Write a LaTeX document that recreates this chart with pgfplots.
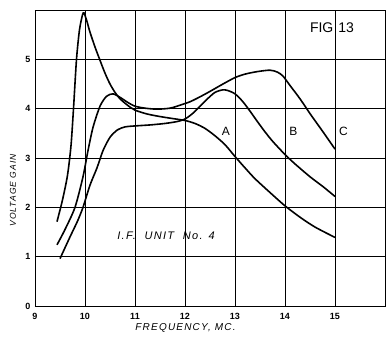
\documentclass[border=0pt]{standalone}
\usepackage{fontspec}
\setmainfont{Liberation Sans}
\newfontfamily\spaced[LetterSpace=12]{Liberation Sans}
\usepackage{pgfplots}
\pgfplotsset{compat=1.18}
\pgfplotsset{curve/.style={black, line width=1.6pt, smooth, tension=0.45, mark=none}}
\begin{document}
\begin{tikzpicture}
\useasboundingbox (0,0) rectangle (389pt,344pt);
\begin{axis}[
  at={(35pt,38pt)}, anchor=south west,
  scale only axis, width=350pt, height=296pt,
  xmin=9, xmax=16, ymin=0, ymax=6,
  xtick={9,10,...,16}, ytick={0,1,...,6},
  xticklabels={9,10,11,12,13,14,15,},
  yticklabels={0,1,2,3,4,5,},
  grid=major,
  major grid style={draw=black, line width=0.7pt},
  axis line style={black, line width=0.9pt},
  major tick length=0pt,
  /pgf/number format/assume math mode=true,
  xticklabel style={font=\fontsize{9}{10}\selectfont\bfseries, yshift=-4pt},
  yticklabel style={font=\fontsize{9}{10}\selectfont\bfseries, xshift=-1pt},
  xlabel={\spaced\itshape FREQUENCY, MC.},
  xlabel style={at={(axis description cs:0.43,0)}, anchor=center, yshift=-22pt, font=\fontsize{10}{11}\selectfont},
  ylabel={\spaced\itshape VOLTAGE GAIN},
  ylabel style={at={(axis description cs:-0.063,0.39)}, anchor=center, font=\fontsize{8.5}{9}\selectfont},
]
% Curve A (sharp peak)
\addplot[curve] coordinates {
(9.44,1.71) (9.55,2.15) (9.65,2.65) (9.72,3.25) (9.77,4.0) (9.83,5.0) (9.89,5.6) (9.95,5.9) (9.98,5.94)
(10.03,5.8) (10.1,5.55) (10.2,5.25) (10.3,4.98) (10.4,4.72) (10.5,4.5) (10.6,4.33) (10.7,4.2)
(10.85,4.07) (11.0,3.97) (11.25,3.89) (11.5,3.84) (11.75,3.8) (12.0,3.76) (12.2,3.7) (12.4,3.6)
(12.6,3.45) (12.8,3.27) (13.0,3.03) (13.2,2.8) (13.4,2.58) (13.7,2.3) (14.0,2.03) (14.3,1.8)
(14.6,1.6) (15.0,1.39)};
% Curve B (plateau)
\addplot[curve] coordinates {
(9.5,0.96) (9.7,1.4) (9.85,1.72) (9.96,2.0) (10.1,2.45) (10.24,2.8) (10.36,3.15) (10.5,3.42)
(10.65,3.57) (10.8,3.63) (11.0,3.65) (11.3,3.67) (11.6,3.7) (11.85,3.74) (12.0,3.79) (12.15,3.9)
(12.3,4.05) (12.45,4.2) (12.6,4.33) (12.75,4.38) (12.85,4.37) (13.0,4.3) (13.15,4.15) (13.3,3.95)
(13.44,3.75) (13.6,3.53) (13.76,3.33) (14.0,3.07) (14.2,2.88) (14.5,2.62) (14.76,2.42) (15.0,2.22)};
% Curve C (hump)
\addplot[curve] coordinates {
(9.44,1.24) (9.6,1.55) (9.8,2.0) (9.96,2.62) (10.06,3.15) (10.16,3.62) (10.3,4.05) (10.43,4.25)
(10.56,4.3) (10.7,4.23) (10.85,4.13) (11.0,4.05) (11.2,4.01) (11.44,3.99) (11.7,4.01) (11.9,4.07)
(12.1,4.14) (12.3,4.24) (12.5,4.35) (12.76,4.5) (13.0,4.63) (13.2,4.7) (13.44,4.75) (13.7,4.78)
(13.85,4.74) (13.96,4.66) (14.1,4.47) (14.3,4.2) (14.5,3.9) (14.76,3.53) (15.0,3.18)};
\node[font=\fontsize{12}{12}\selectfont] at (axis cs:12.82,3.53) {A};
\node[font=\fontsize{12}{12}\selectfont] at (axis cs:14.17,3.53) {B};
\node[font=\fontsize{12}{12}\selectfont] at (axis cs:15.17,3.53) {C};
\node[font=\fontsize{14}{14}\selectfont] at (axis cs:14.94,5.65) {FIG\hspace{5pt}13};
\node[font=\fontsize{11}{11}\selectfont\spaced\itshape] at (axis cs:11.62,1.43) {I.F.\ \ UNIT\ \ No. 4};
\end{axis}
\end{tikzpicture}
\end{document}
